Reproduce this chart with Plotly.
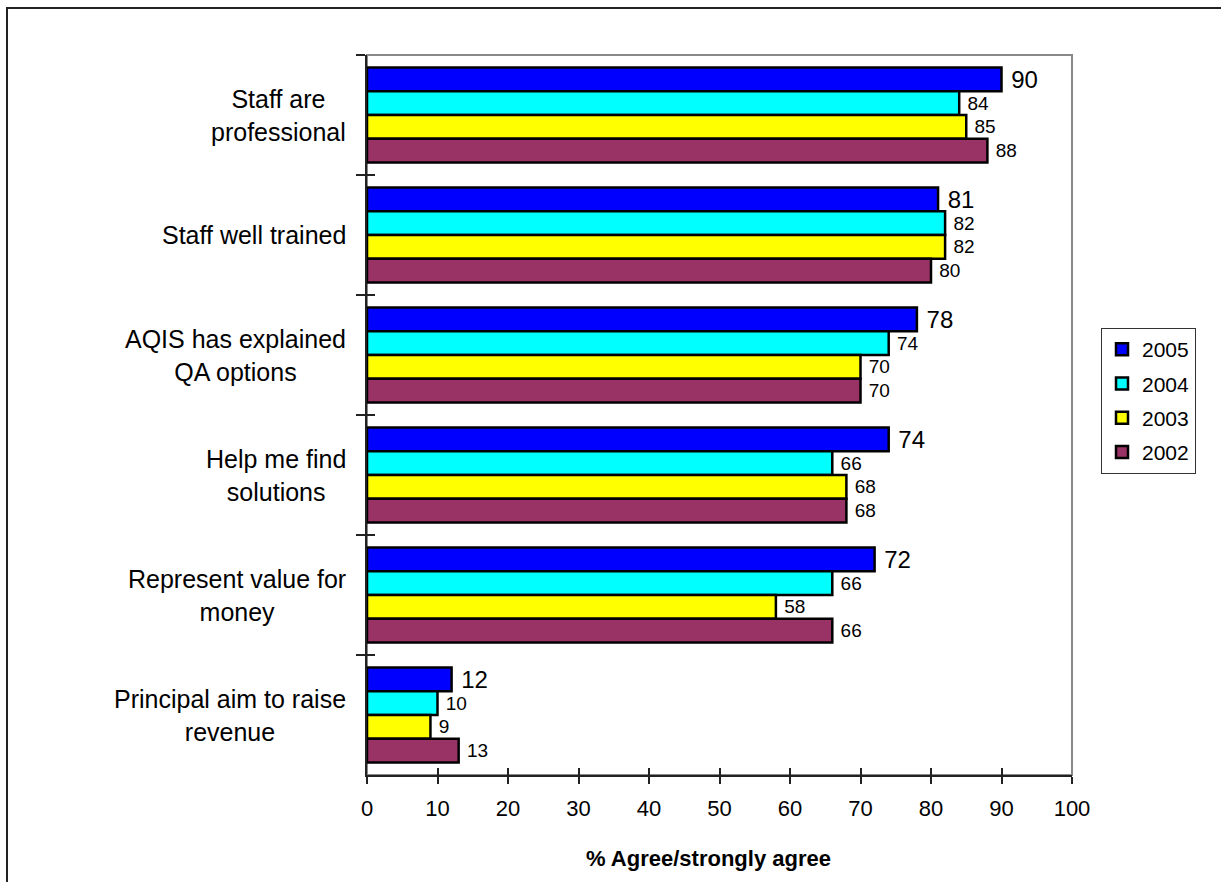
import plotly.graph_objects as go

categories = [
    "Staff are professional",
    "Staff well trained",
    "AQIS has explained QA options",
    "Help me find solutions",
    "Represent value for money",
    "Principal aim to raise revenue",
]
category_labels = [
    "Staff are<br>professional",
    "Staff well trained",
    "AQIS has explained<br>QA options",
    "Help me find<br>solutions",
    "Represent value for<br>money",
    "Principal aim to raise<br>revenue",
]
years = ["2005", "2004", "2003", "2002"]
v2005 = [90, 81, 78, 74, 72, 12]
v2004 = [84, 82, 74, 66, 66, 10]
v2003 = [85, 82, 70, 68, 58, 9]
v2002 = [88, 80, 70, 68, 66, 13]
series = [v2005, v2004, v2003, v2002]
colors = ["#0000FF", "#00FFFF", "#FFFF00", "#993366"]
label_sizes = [24, 19, 19, 19]
x_ticks = [0, 10, 20, 30, 40, 50, 60, 70, 80, 90, 100]

FONT = "Arial, Liberation Sans, sans-serif"

W, H = 1221, 882
L, R, T, B = 367, 149, 55, 107
PW, PH = W - L - R, H - T - B


def px_x(p):
    return (p - L) / PW


def px_y(p):
    return (H - B - p) / PH


fig = go.Figure()
for yr, vals, col, fs in zip(years, series, colors, label_sizes):
    fig.add_trace(go.Bar(
        y=categories, x=vals, name=yr, orientation="h",
        marker=dict(color=col, line=dict(color="black", width=2.5)),
        text=[" " + str(v) for v in vals], textposition="outside",
        textfont=dict(family=FONT, size=fs, color="black"),
        constraintext="none", cliponaxis=False,
        legendgroup=yr, hoverinfo="skip",
    ))

# invisible helper trace for the overlay axes (inside half of the crossing ticks)
fig.add_trace(go.Scatter(
    x=v2005, y=categories, xaxis="x2", yaxis="y2", mode="markers",
    marker=dict(opacity=0), showlegend=False, hoverinfo="skip",
))

yr_range = [len(categories) - 0.5, -0.5]

fig.update_layout(
    width=W, height=H,
    margin=dict(l=L, r=R, t=T, b=B, pad=0),
    paper_bgcolor="white", plot_bgcolor="white",
    barmode="group", bargap=0.21, bargroupgap=0,
    hovermode=False,
    font=dict(family=FONT, color="black"),
    xaxis=dict(
        range=[0, 100], tickvals=x_ticks, ticktext=[str(t) for t in x_ticks],
        ticks="outside", ticklen=7, tickwidth=1.5, tickcolor="#222",
        showline=True, linecolor="#222", linewidth=1.5,
        showgrid=False, zeroline=False,
        tickfont=dict(family=FONT, size=22, color="black"),
        ticklabelstandoff=6,
    ),
    xaxis2=dict(
        range=[0, 100], tickvals=x_ticks, overlaying="x", anchor="y2", side="bottom",
        ticks="inside", ticklen=7, tickwidth=1.5, tickcolor="#222",
        showticklabels=False, showline=False, showgrid=False, zeroline=False,
    ),
    yaxis=dict(
        categoryorder="array", categoryarray=categories, range=yr_range,
        tickson="boundaries", ticks="outside", ticklen=9, tickwidth=1.5, tickcolor="#222",
        showticklabels=False, showline=True, linecolor="#222", linewidth=1.5,
        showgrid=False, zeroline=False,
    ),
    yaxis2=dict(
        categoryorder="array", categoryarray=categories, range=yr_range,
        overlaying="y", anchor="x2", side="left",
        tickson="boundaries", ticks="inside", ticklen=8, tickwidth=1.5, tickcolor="#222",
        showticklabels=False, showline=False, showgrid=False, zeroline=False,
    ),
    legend=dict(
        x=px_x(1101), y=px_y(328), xanchor="left", yanchor="top",
        bordercolor="#333", borderwidth=1, bgcolor="white",
        font=dict(family=FONT, size=21, color="black"),
        traceorder="grouped", tracegroupgap=4, itemwidth=30,
    ),
    showlegend=True,
)

# category labels (centered multi-line, right-anchored at axis)
for cat, lab in zip(categories, category_labels):
    fig.add_annotation(
        x=px_x(348), xref="paper", y=cat, yref="y",
        text=lab, showarrow=False, xanchor="right", yanchor="middle",
        align="center", font=dict(family=FONT, size=25, color="black"),
    )

# axis title
fig.add_annotation(
    x=px_x(708.5), xref="paper", y=px_y(858), yref="paper",
    text="<b>% Agree/strongly agree</b>", showarrow=False,
    xanchor="center", yanchor="middle",
    font=dict(family=FONT, size=22, color="black"),
)

# plot-area frame (grey top/right) and outer chart frame
fig.add_shape(type="rect", xref="paper", yref="paper", x0=0, x1=1, y0=0, y1=1,
              line=dict(color="#888888", width=2), layer="below")
fig.add_shape(type="rect", xref="paper", yref="paper",
              x0=px_x(7), x1=px_x(1240), y0=px_y(900), y1=px_y(8),
              line=dict(color="#222222", width=2), layer="below")

fig.write_html("out.html")
